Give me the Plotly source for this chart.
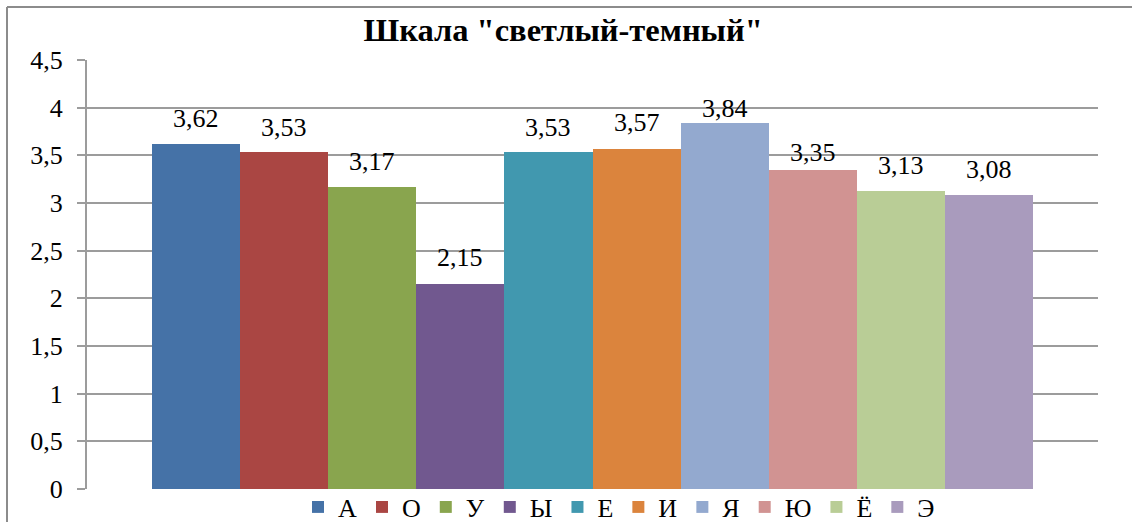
import plotly.graph_objects as go

# Data
categories = ["А", "О", "У", "Ы", "Е", "И", "Я", "Ю", "Ё", "Э"]
values = [3.62, 3.53, 3.17, 2.15, 3.53, 3.57, 3.84, 3.35, 3.13, 3.08]
title_text = 'Шкала "светлый-темный"'

# Styles
colors = ["#4572A7", "#AA4643", "#89A54E", "#71588F", "#4198AF",
          "#DB843D", "#93A9CF", "#D19392", "#B9CD96", "#A99BBD"]
label_shift = [25, 25, 25, 27, 25, 26, 14, 17, 25, 26]
FONT = "Liberation Serif"

W, H = 1132, 522
L, R, T, B = 87, 34, 60, 33
pw, ph = W - L - R, H - T - B

fig = go.Figure()
for i, (c, v) in enumerate(zip(categories, values)):
    fig.add_trace(go.Bar(
        x=[i], y=[v], name=c, width=1.0,
        marker=dict(color=colors[i], line=dict(width=0)),
        hoverinfo="name+y",
    ))
    fig.add_annotation(
        x=i, y=v, text=f"{v:.2f}".replace(".", ","),
        showarrow=False, yanchor="middle", yshift=label_shift[i],
        font=dict(family=FONT, size=26, color="black"),
    )

gap_units = 65 / 88.0
fig.update_layout(
    width=W, height=H,
    margin=dict(l=L, r=R, t=T, b=B, autoexpand=False),
    paper_bgcolor="white", plot_bgcolor="white",
    separators=", ",
    showlegend=True,
    title=dict(text=f"<b>{title_text}</b>", x=0.4975, xref="container", xanchor="center",
               y=1 - 30 / H, yref="container", yanchor="middle",
               font=dict(family=FONT, size=32.5, color="black")),
    legend=dict(orientation="h", x=(619 - L) / pw, xanchor="center",
                y=(489 - 507) / ph, yanchor="middle",
                font=dict(family=FONT, size=26, color="black"),
                bgcolor="rgba(0,0,0,0)", itemclick=False, traceorder="normal"),
    bargap=0, barmode="overlay",
    xaxis=dict(range=[-0.5 - gap_units, 9.5 + gap_units], showticklabels=False,
               showgrid=False, zeroline=False, showline=False, ticks="", fixedrange=True),
    yaxis=dict(range=[0, 4.5], dtick=0.5, tick0=0,
               showgrid=True, gridcolor="#9c9c9c", gridwidth=2,
               zeroline=False, showline=True, linecolor="#9c9c9c", linewidth=2,
               ticks="outside", ticklen=8, tickcolor="#9c9c9c", tickwidth=2,
               tickfont=dict(family=FONT, size=26, color="black"), ticklabelstandoff=9,
               fixedrange=True),
)

# Outer chart border (left and top)
fig.add_shape(type="line", xref="paper", yref="paper",
              x0=(7 - L) / pw, x1=(W + 2 - L) / pw,
              y0=1 + (T - 7) / ph, y1=1 + (T - 7) / ph,
              line=dict(color="#8c8c8c", width=2))
fig.add_shape(type="line", xref="paper", yref="paper",
              x0=(7 - L) / pw, x1=(7 - L) / pw,
              y0=1 + (T - 7) / ph, y1=-(B + 5) / ph,
              line=dict(color="#8c8c8c", width=2))

fig.write_html("out.html", config={"displayModeBar": False},
               post_script="document.body.style.margin='0';")
